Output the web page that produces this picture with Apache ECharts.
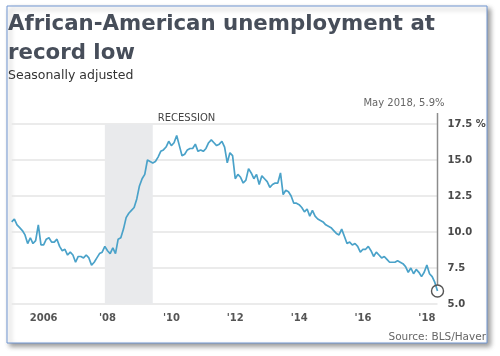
<!DOCTYPE html>
<html><head><meta charset="utf-8">
<script src="https://cdn.jsdelivr.net/npm/echarts@6/dist/echarts.min.js"></script>
<style>html,body{margin:0;padding:0;background:#fff}#c{width:500px;height:356px}</style>
</head><body><div id="c"></div>
<script>
// Monthly values, Jan 2005 - May 2018 (percent)
var v2005 = [10.7, 10.9, 10.5, 10.3, 10.1, 9.8, 9.2, 9.6, 9.2, 9.4, 10.5, 9.1];
var v2006 = [9.1, 9.5, 9.6, 9.3, 9.3, 9.5, 9.0, 8.7, 8.8, 8.4, 8.6, 8.4];
var v2007 = [7.9, 8.3, 8.3, 8.2, 8.4, 8.2, 7.7, 7.9, 8.2, 8.5, 8.6, 9.0];
var v2008 = [8.7, 8.5, 8.9, 8.5, 9.5, 9.6, 10.2, 11.0, 11.3, 11.5, 11.7, 12.3];
var v2009 = [13.2, 13.7, 14.0, 15.0, 14.9, 14.8, 14.9, 15.2, 15.6, 15.7, 15.9, 16.3];
var v2010 = [16.0, 16.2, 16.7, 16.0, 15.3, 15.4, 15.7, 15.8, 15.8, 16.1, 15.6, 15.7];
var v2011 = [15.6, 15.8, 16.2, 16.4, 16.2, 16.0, 16.1, 16.3, 15.9, 14.8, 15.5, 15.3];
var v2012 = [13.7, 14.0, 13.8, 13.4, 13.6, 14.4, 14.1, 13.7, 14.0, 13.3, 13.9, 13.7];
var v2013 = [13.5, 13.1, 13.3, 13.4, 13.4, 14.1, 12.6, 12.9, 12.8, 12.5, 12.0, 12.0];
var v2014 = [11.9, 11.7, 11.4, 11.6, 11.1, 11.5, 11.1, 10.9, 10.8, 10.7, 10.5, 10.4];
var v2015 = [10.3, 10.1, 9.9, 9.8, 10.2, 9.7, 9.2, 9.3, 9.1, 9.2, 9.0, 8.6];
var v2016 = [8.8, 8.8, 9.0, 8.7, 8.3, 8.6, 8.4, 8.2, 8.3, 8.1, 7.9, 7.9];
var v2017 = [7.9, 8.0, 7.9, 7.8, 7.6, 7.2, 7.5, 7.1, 7.4, 7.2, 6.9, 7.2];
var v2018 = [7.7, 7.1, 6.9, 6.5, 5.9];

var startYear = 2005;
var yearArrays = [v2005, v2006, v2007, v2008, v2009, v2010, v2011, v2012, v2013, v2014, v2015, v2016, v2017, v2018];

var recessionStart = '2007-12';
var recessionEnd = '2009-06';
var recessionLabel = 'RECESSION';

var xTickMonths = ['2006-01', '2008-01', '2010-01', '2012-01', '2014-01', '2016-01', '2018-01'];
var xTickLabels = ['2006', "'08", "'10", "'12", "'14", "'16", "'18"];

var yTicks = [5, 7.5, 10, 12.5, 15, 17.5];
var yLabels = ['5.0', '7.5', '10.0', '12.5', '15.0', '17.5 %'];

var monthNames = ['Jan','Feb','Mar','Apr','May','Jun','Jul','Aug','Sep','Oct','Nov','Dec'];

// build category list + value list
var months = [], values = [];
yearArrays.forEach(function (arr, yi) {
  arr.forEach(function (v, mi) {
    months.push((startYear + yi) + '-' + (mi < 9 ? '0' : '') + (mi + 1));
    values.push(v);
  });
});
var lastMonth = months[months.length - 1];
var lastVal = values[values.length - 1];
var lastParts = lastMonth.split('-');
var annotText = monthNames[+lastParts[1] - 1] + ' ' + lastParts[0] + ', ' + lastVal.toFixed(1) + '%';

var FONT = 'DejaVu Sans';
var chart = echarts.init(document.getElementById('c'), null, {renderer: 'canvas'});
chart.setOption({
  animation: false,
  backgroundColor: '#fff',
  graphic: {
    elements: [{
      type: 'rect', z: -10, silent: true,
      shape: {x: 7, y: 6, width: 480, height: 337},
      style: {fill: '#fff', stroke: '#7096d2', lineWidth: 1,
        shadowBlur: 5, shadowOffsetX: 3, shadowOffsetY: 3, shadowColor: 'rgba(0,0,0,0.4)'}
    }]
  },
  title: [
    {text: 'African-American unemployment at\nrecord low', left: 8, top: 10, padding: 0,
      textStyle: {fontFamily: FONT, fontWeight: 'bold', fontSize: 21.3, lineHeight: 29, color: '#474e5a'}},
    {text: 'Seasonally adjusted', left: 8, top: 68, padding: 0,
      textStyle: {fontFamily: FONT, fontWeight: 'normal', fontSize: 12.5, lineHeight: 16, color: '#333'}},
    {text: 'Source: BLS/Haver', right: 14, top: 330, padding: 0,
      textStyle: {fontFamily: FONT, fontWeight: 'normal', fontSize: 10.5, lineHeight: 14, color: '#666'}}
  ],
  grid: {left: 11.7, right: 62.5, top: 124, bottom: 52, containLabel: false},
  xAxis: {
    type: 'category', data: months, boundaryGap: false,
    axisLine: {show: false}, axisTick: {show: false}, splitLine: {show: false},
    axisLabel: {
      margin: 9, fontFamily: FONT, fontWeight: 'bold', fontSize: 10, color: '#555',
      interval: function (i, v) { return xTickMonths.indexOf(v) >= 0; },
      formatter: function (v) { var k = xTickMonths.indexOf(v); return k >= 0 ? xTickLabels[k] : ''; }
    }
  },
  yAxis: {
    type: 'value', position: 'right', min: yTicks[0], max: yTicks[yTicks.length - 1], interval: 2.5,
    axisLine: {show: false}, axisTick: {show: false},
    splitLine: {lineStyle: {color: '#e4e4e4', width: 1.5}},
    axisLabel: {margin: 10, fontFamily: FONT, fontWeight: 'bold', fontSize: 10, color: '#4a4a4a',
      formatter: function (v) { var k = yTicks.indexOf(v); return k >= 0 ? yLabels[k] : ''; }}
  },
  series: [
    {
      type: 'line', data: values, symbol: 'none', z: 3,
      lineStyle: {color: '#4aa2c9', width: 1.7},
      markArea: {
        silent: true,
        itemStyle: {color: '#e9eaec'},
        label: {show: true, position: ['100%', 0], align: 'left', verticalAlign: 'bottom', offset: [5, -1],
          fontFamily: FONT, fontSize: 10, color: '#444'},
        data: [[{name: recessionLabel, xAxis: recessionStart}, {xAxis: recessionEnd}]]
      }
    },
    {
      type: 'custom', coordinateSystem: 'cartesian2d', clip: false, silent: true, z: 5,
      data: [[lastMonth, lastVal]],
      renderItem: function (params, api) {
        var p = api.coord([api.value(0), api.value(1)]);
        var top = api.coord([api.value(0), yTicks[yTicks.length - 1]])[1] - 11;
        return {type: 'group', children: [
          {type: 'line', shape: {x1: p[0], y1: p[1] - 6, x2: p[0], y2: top},
            style: {stroke: '#8c8c8c', lineWidth: 1.5}},
          {type: 'circle', shape: {cx: p[0], cy: p[1], r: 6},
            style: {fill: 'none', stroke: '#555', lineWidth: 1.4}},
          {type: 'text', x: p[0] + 7, y: top - 10,
            style: {text: annotText, align: 'right', verticalAlign: 'middle', fill: '#666',
              font: '10px "DejaVu Sans"'}}
        ]};
      }
    }
  ]
});
</script></body></html>
